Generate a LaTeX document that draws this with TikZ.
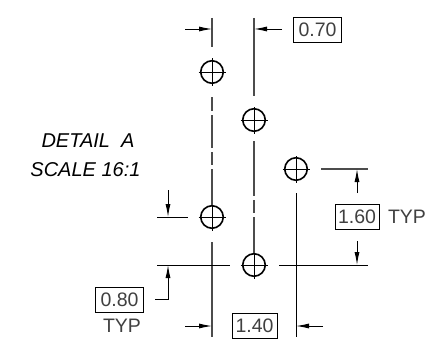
\documentclass[tikz,border=0pt]{standalone}
\usepackage{fontspec}
\setmainfont{Liberation Sans}
\usetikzlibrary{arrows.meta}
\tikzset{
  x=1pt,y=-1pt,
  hole/.style={circle,draw,line width=1.6pt,minimum size=22.5pt,inner sep=0pt},
  dimline/.style={line width=0.9pt,draw=black},
  extline/.style={line width=1.1pt,draw=black!70},
  dimarrow/.style={dimline,-{Latex[length=13pt,width=5pt]}},
  boxed/.style={draw,line width=0.8pt,inner sep=0pt,minimum width=48pt,minimum height=25pt,font=\fontsize{19.5}{19.5}\selectfont,text=black!75},
  plain/.style={inner sep=0pt,font=\fontsize{19.5}{19.5}\selectfont,text=black!75},
  title/.style={inner sep=0pt,font=\fontsize{20}{20}\selectfont\itshape}
}
\begin{document}
\begin{tikzpicture}
\useasboundingbox (0,0) rectangle (444,345);
\fill[white] (0,0) rectangle (444,345);
\node[hole] (h1) at (212,72) {};
\node[hole] (h2) at (254,120) {};
\node[hole] (h3) at (296,169) {};
\node[hole] (h4) at (212,217) {};
\node[hole] (h5) at (254,265) {};
\foreach \h in {h1,h2,h3,h4,h5}{
  \draw[dimline] ([xshift=-13.5pt]\h.center) -- ([xshift=13.5pt]\h.center);
  \draw[dimline] ([yshift=-13.5pt]\h.center) -- ([yshift=13.5pt]\h.center);
}
% extension and centre lines
\coordinate (a1) at (212,18); \coordinate (a2) at (212,47);
\draw[extline] (a1) -- (a2);
\coordinate (b1) at (254,18); \coordinate (b2) at (254,96);
\draw[extline] (b1) -- (b2);
\draw[extline] (212,97) -- (212,111) (212,115) -- (212,148) (212,152) -- (212,165) (212,169) -- (h4.north);
\draw[extline] (254,141) -- (254,196) (254,200) -- (254,213) (254,217) -- (h5.north);
\coordinate (c1) at (212,242); \coordinate (c2) at (212,337);
\draw[extline] (c1) -- (c2);
\coordinate (d1) at (296,193); \coordinate (d2) at (296,337);
\draw[dimline] (d1) -- (d2);
% horizontals
\coordinate (e1) at (157,217); \coordinate (e2) at (188,217);
\draw[dimline] (e1) -- (e2);
\coordinate (f1) at (157,265); \coordinate (f2) at (230,265);
\draw[dimline] (f1) -- (f2);
\coordinate (g1) at (279,265); \coordinate (g2) at (368,265);
\draw[dimline] (g1) -- (g2);
\coordinate (i1) at (321,169); \coordinate (i2) at (368,169);
\draw[extline] (i1) -- (i2);
% dimension arrows
\coordinate (j1) at (185,29); \coordinate (j2) at (212,29);
\draw[dimarrow] (j1) -- (j2);
\coordinate (k1) at (282,29); \coordinate (k2) at (254,29);
\draw[dimarrow] (k1) -- (k2);
\coordinate (l1) at (168,190); \coordinate (l2) at (168,217);
\draw[dimarrow] (l1) -- (l2);
\coordinate (m1) at (357,193); \coordinate (m2) at (357,169);
\draw[dimarrow] (m1) -- (m2);
\coordinate (n1) at (357,241); \coordinate (n2) at (357,265);
\draw[dimarrow] (n1) -- (n2);
\coordinate (o1) at (185,326); \coordinate (o2) at (212,326);
\draw[dimarrow] (o1) -- (o2);
\coordinate (q1) at (323,326); \coordinate (q2) at (296,326);
\draw[dimarrow] (q1) -- (q2);
\coordinate (r1) at (155,299); \coordinate (r2) at (168,299); \coordinate (r3) at (168,265);
\draw[dimarrow] (r1) -- (r2) -- (r3);
% labels
\node[boxed] (t1) at (317.5,29.5) {0.70};
\node[boxed,minimum width=44pt] (t2) at (357,217) {1.60};
\node[boxed] (t3) at (119.5,300) {0.80};
\node[boxed,minimum width=45pt] (t4) at (254.5,326) {1.40};
\node[plain] (t5) at (407,217) {TYP};
\node[plain] (t6) at (122,326) {TYP};
\node[title] (t7) at (88,141) {DETAIL\ \ A};
\node[title] (t8) at (85.5,170) {SCALE 16:1};
\end{tikzpicture}
\end{document}
